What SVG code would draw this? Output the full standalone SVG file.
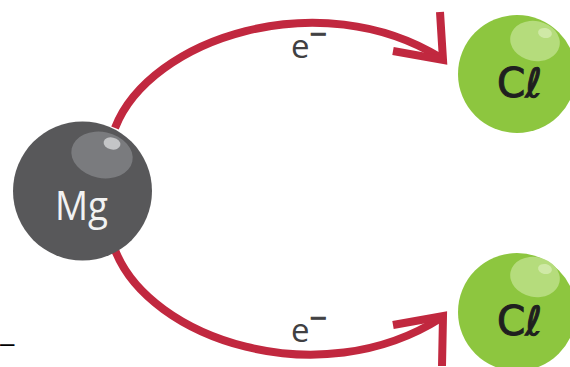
<svg xmlns="http://www.w3.org/2000/svg" width="570" height="367" viewBox="0 0 570 367">
  <style>
    .arc { fill: none; stroke: #c1283f; stroke-width: 8; stroke-linecap: butt; }
    .head { fill: none; stroke: #c1283f; stroke-width: 8; stroke-linejoin: miter; stroke-miterlimit: 10; }
    .label { font-family: "Open Sans", "Liberation Sans", sans-serif; fill: #404042; font-size: 33px; }
    .minus { font-size: 30px; stroke: #404042; stroke-width: 1; }
    .cl-body { fill: #8dc63f; }
    .cl-shine { fill: #b5dc7c; }
    .cl-spec { fill: #cfe9a6; }
    .cl-text { font-family: "DejaVu Sans", sans-serif; font-size: 40px; fill: #1f1f1f; stroke: #1f1f1f; stroke-width: 1; }
  </style>

  <g id="connectors">
    <!-- upper electron transfer -->
    <path class="arc" d="M 115 128 C 150 38, 320 -17, 441 58"/>
    <polyline class="head" points="440,12 443,60 393,51"/>
    <text class="label" x="291" y="58">e<tspan class="minus" dy="-13">−</tspan></text>
    <!-- lower electron transfer -->
    <path class="arc" d="M 115 250 C 150 340, 320 395, 441 318"/>
    <polyline class="head" points="442,366 443,316 393,325"/>
    <text class="label" x="291" y="342">e<tspan class="minus" dy="-13">−</tspan></text>
  </g>

  <g id="mg">
    <circle cx="82.5" cy="191" r="69.5" fill="#58585a"/>
    <ellipse cx="102" cy="155" rx="31" ry="23" transform="rotate(12 102 155)" fill="#7a7b7e"/>
    <ellipse cx="112" cy="143.5" rx="8.5" ry="6" transform="rotate(12 112 143.5)" fill="#c4c5c7"/>
    <text x="55" y="220" font-family="Open Sans, Liberation Sans, sans-serif" font-size="40" fill="#f2f2f2" textLength="53" lengthAdjust="spacingAndGlyphs">Mg</text>
  </g>

  <g id="cl-top">
    <circle class="cl-body" cx="517" cy="74" r="59"/>
    <ellipse class="cl-shine" cx="535" cy="41" rx="25" ry="20" transform="rotate(12 535 41)"/>
    <ellipse class="cl-spec" cx="545" cy="33" rx="7" ry="5" transform="rotate(12 545 33)"/>
    <text class="cl-text" x="497" y="97" textLength="45" lengthAdjust="spacingAndGlyphs">Cℓ</text>
  </g>

  <g id="cl-bottom">
    <circle class="cl-body" cx="517" cy="312" r="59"/>
    <ellipse class="cl-shine" cx="535" cy="277" rx="25" ry="20" transform="rotate(12 535 277)"/>
    <ellipse class="cl-spec" cx="545" cy="269" rx="7" ry="5" transform="rotate(12 545 269)"/>
    <text class="cl-text" x="497" y="335" textLength="45" lengthAdjust="spacingAndGlyphs">Cℓ</text>
  </g>

  <text x="0" y="352" font-family="Liberation Sans, sans-serif" font-size="26" fill="#000">–</text>
</svg>
